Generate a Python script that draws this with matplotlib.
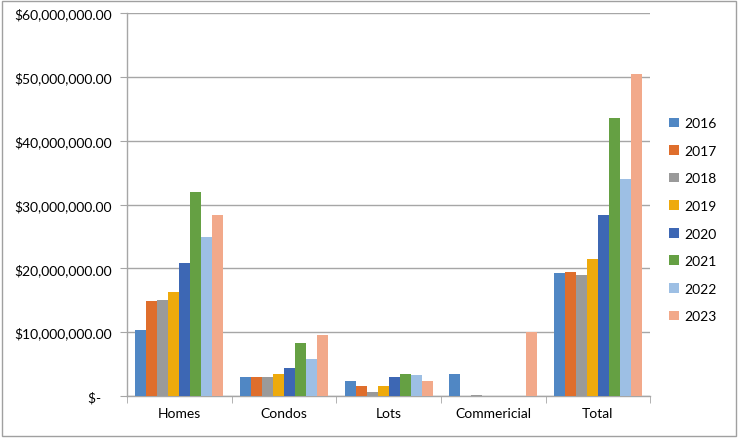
import numpy as np
import matplotlib.pyplot as plt
from matplotlib.ticker import FuncFormatter, FixedLocator

categories = ["Homes", "Condos", "Lots", "Commericial", "Total"]
years = ["2016", "2017", "2018", "2019", "2020", "2021", "2022", "2023"]

v2016 = [10.4e6, 2.9e6, 2.3e6, 3.5e6, 19.3e6]
v2017 = [14.9e6, 3.0e6, 1.5e6, 0.0, 19.5e6]
v2018 = [15.1e6, 3.0e6, 0.7e6, 0.15e6, 19.0e6]
v2019 = [16.3e6, 3.4e6, 1.6e6, 0.0, 21.4e6]
v2020 = [20.9e6, 4.4e6, 2.9e6, 0.0, 28.4e6]
v2021 = [31.9e6, 8.3e6, 3.4e6, 0.0, 43.5e6]
v2022 = [24.9e6, 5.75e6, 3.3e6, 0.0, 34.0e6]
v2023 = [28.3e6, 9.6e6, 2.4e6, 10.1e6, 50.5e6]

series = [v2016, v2017, v2018, v2019, v2020, v2021, v2022, v2023]
colors = ["#5087C4", "#DF6E2C", "#9A9A9A", "#EEAA0C", "#3D67B4", "#65A043", "#9DBFE4", "#F2A98A"]

plt.rcParams['font.family'] = ['Lato', 'DejaVu Sans']

fig = plt.figure(figsize=(7.38, 4.39), dpi=100)
ax = fig.add_axes([0.172, 0.0957, 0.709, 0.8723])

x = np.arange(len(categories))
n = len(series)
group = 0.84
w = group / n
for i, vals in enumerate(series):
    ax.bar(x - group / 2 + w * (i + 0.5), vals, width=w, color=colors[i], label=years[i], zorder=3)

ax.set_xlim(-0.5, len(categories) - 0.5)
ax.set_ylim(0, 60e6)
ax.set_yticks(np.arange(0, 60e6 + 1, 10e6))

def fmt(v, pos):
    if v == 0:
        return "$-   "
    return "${:,.2f}".format(v)

ax.yaxis.set_major_formatter(FuncFormatter(fmt))
ax.grid(axis='y', color='#a6a6a6', linewidth=1.0, zorder=0)

ax.set_xticks(x)
ax.set_xticklabels(categories)
ax.xaxis.set_minor_locator(FixedLocator(np.arange(-0.5, len(categories), 1.0)))
ax.tick_params(axis='x', which='major', length=0, pad=8, labelsize=10, labelcolor='#000000')
ax.tick_params(axis='x', which='minor', length=5, color='#a6a6a6', direction='out')
ax.tick_params(axis='y', length=5, color='#a6a6a6', pad=6, labelsize=10, labelcolor='#000000')

for s in ['top', 'right']:
    ax.spines[s].set_visible(False)
for s in ['left', 'bottom']:
    ax.spines[s].set_color('#a6a6a6')
    ax.spines[s].set_linewidth(1.0)

leg = fig.legend(loc='center left', bbox_to_anchor=(0.89, 0.497), frameon=False,
                 handlelength=0.7, handleheight=0.7, handletextpad=0.4,
                 labelspacing=1.12, fontsize=10)

fig.patches.append(plt.Rectangle((0.003, 0.005), 0.994, 0.99, transform=fig.transFigure,
                                 fill=False, edgecolor='#a0a0a0', linewidth=1.0))

fig.savefig("out.png", dpi=100)
